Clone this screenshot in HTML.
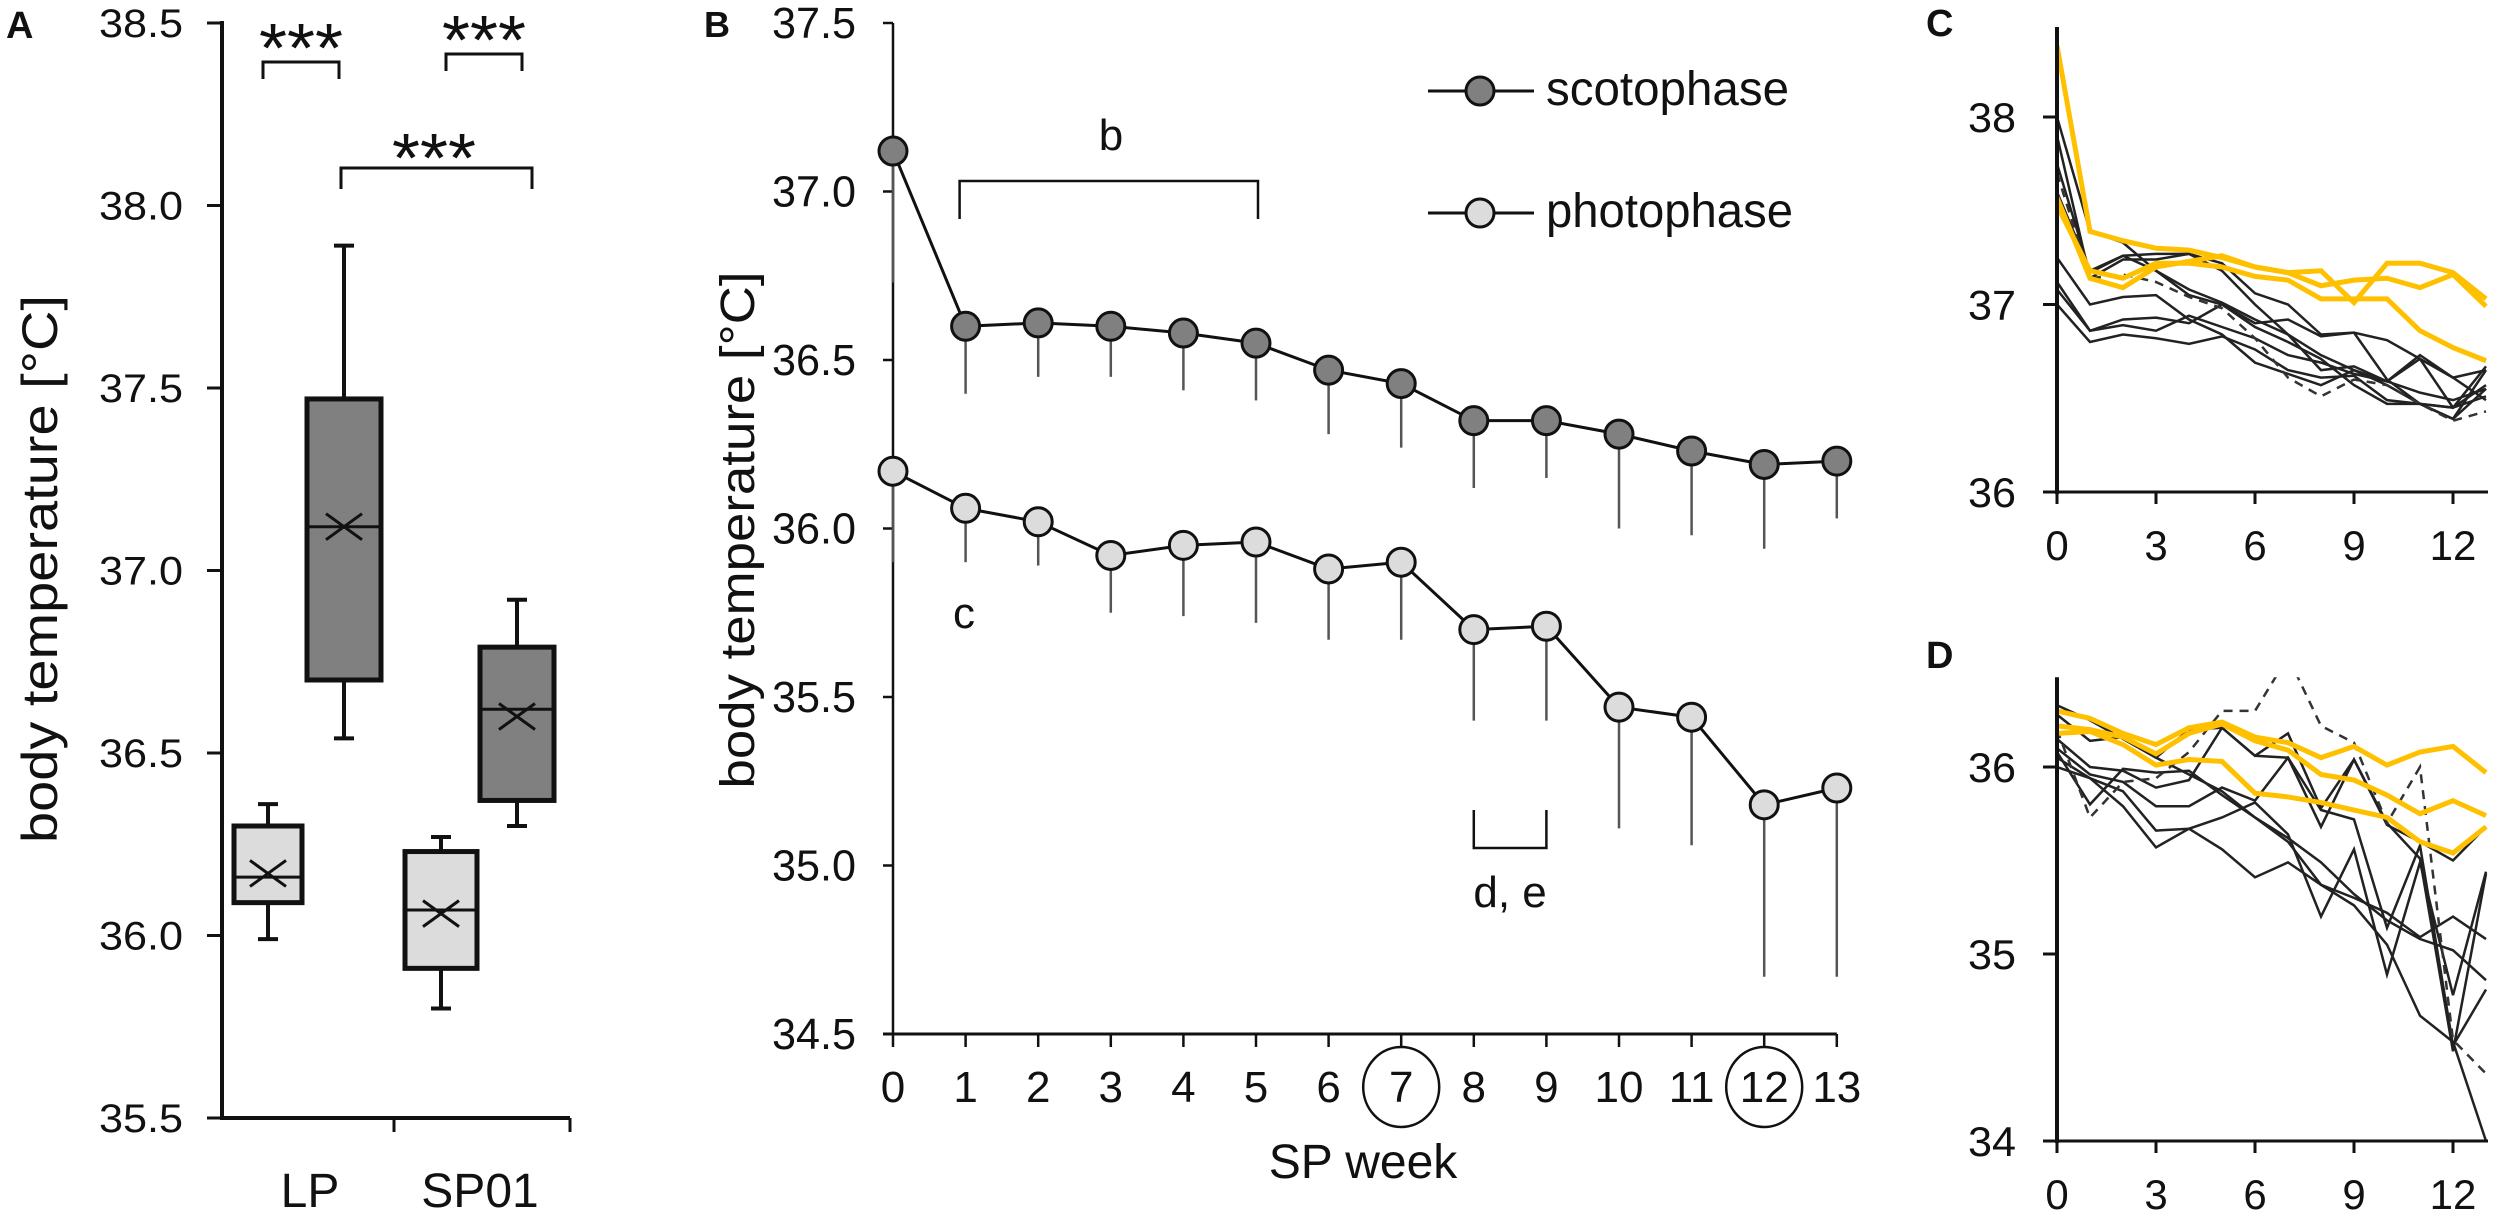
<!DOCTYPE html>
<html><head><meta charset="utf-8"><style>
html,body{margin:0;padding:0;background:#fff}
svg{display:block}
text{font-family:"Liberation Sans",sans-serif;fill:#111}
.nar{font-family:"Liberation Sans Narrow","Liberation Sans",sans-serif}
</style></head><body>
<svg id="fig" width="2500" height="1218" viewBox="0 0 2500 1218" xmlns="http://www.w3.org/2000/svg">
<g id="pA"></g>
<g id="pB"></g>
<g id="pC"></g>
<g id="pD"></g>
</svg>
<script>
// ---------- Panel A data ----------
const aCategories = ["LP", "SP01"];
const aLightBox = [[35.99, 36.09, 36.16, 36.30, 36.36, 36.17],[35.80, 35.91, 36.07, 36.23, 36.27, 36.06]]; // min,q1,med,q3,max,mean
const aDarkBox = [[36.54, 36.70, 37.12, 37.47, 37.89, 37.12],[36.30, 36.37, 36.62, 36.79, 36.92, 36.60]];
const aTicks = ["35.5","36.0","36.5","37.0","37.5","38.0","38.5"];
// ---------- Panel B data ----------
const bWeeks = [0,1,2,3,4,5,6,7,8,9,10,11,12,13];
const bScoto = [37.12,36.60,36.61,36.60,36.58,36.55,36.47,36.43,36.32,36.32,36.28,36.23,36.19,36.20];
const bScotoLow = [36.73,36.40,36.45,36.45,36.41,36.38,36.28,36.24,36.12,36.15,36.00,35.98,35.94,36.03];
const bPhoto = [36.17,36.06,36.02,35.92,35.95,35.96,35.88,35.90,35.70,35.71,35.47,35.44,35.18,35.23];
const bPhotoLow = [35.90,35.90,35.89,35.75,35.74,35.72,35.67,35.67,35.43,35.43,35.11,35.06,34.67,34.67];
const bTicks = ["34.5","35.0","35.5","36.0","36.5","37.0","37.5"];
const bCircled = [7, 12];
// ---------- Panel C data ----------
const cYellow1 = [38.38,37.39,37.34,37.30,37.29,37.25,37.20,37.17,37.18,37.01,37.22,37.22,37.17,37.03];
const cYellow2 = [37.57,37.14,37.09,37.20,37.23,37.26,37.20,37.17,37.10,37.13,37.14,37.09,37.16,36.99];
const cYellow3 = [37.53,37.18,37.14,37.22,37.22,37.20,37.15,37.13,37.03,37.03,37.03,36.86,36.77,36.70];
const cBlack1 = [38.00,37.39,37.33,37.18,37.05,37.00,36.88,36.80,36.71,36.57,36.47,36.47,36.39,36.65];
const cBlack2 = [37.90,37.14,37.24,37.24,37.27,37.22,37.06,37.00,36.84,36.85,36.60,36.47,36.45,36.67];
const cBlack3 = [37.75,37.17,37.26,37.27,37.27,37.18,37.00,36.84,36.65,36.67,36.59,36.71,36.45,36.57];
const cDashed = [37.70,37.14,37.16,37.12,37.04,36.98,36.82,36.61,36.51,36.60,36.57,36.47,36.38,36.43];
const cBlack5 = [37.25,37.00,37.04,37.05,36.92,36.84,36.69,36.63,36.57,36.65,36.57,36.47,36.39,36.55];
const cBlack6 = [37.12,36.86,36.92,36.93,36.90,37.00,36.90,36.92,36.83,36.85,36.81,36.71,36.61,36.65];
const cBlack7 = [37.08,36.86,36.89,36.86,36.94,36.88,36.82,36.73,36.69,36.63,36.59,36.53,36.49,36.55];
const cBlack8 = [37.00,36.80,36.84,36.82,36.79,36.83,36.76,36.65,36.61,36.62,36.49,36.47,36.45,36.51];
const cBlack9 = [37.60,37.18,37.26,37.18,37.08,37.01,36.92,36.84,36.73,36.65,36.59,36.73,36.61,36.49];
const cTicks = ["36","37","38"];
// ---------- Panel D data ----------
const dYellow1 = [36.30,36.26,36.18,36.12,36.21,36.24,36.16,36.13,36.05,36.11,36.01,36.08,36.11,35.97];
const dYellow2 = [36.22,36.20,36.16,36.07,36.18,36.23,36.14,36.09,35.96,35.93,35.85,35.75,35.82,35.74];
const dYellow3 = [36.18,36.19,36.12,36.01,36.04,36.03,35.86,35.84,35.81,35.77,35.73,35.60,35.54,35.68];
const dBlack1 = [36.33,36.25,36.15,36.05,35.96,35.87,35.73,35.62,35.49,35.32,35.18,35.08,35.02,34.86];
const dBlack2 = [36.28,36.14,36.16,36.05,36.20,36.21,36.06,36.18,35.78,36.04,35.69,35.60,35.50,35.68];
const dDashed = [36.20,35.73,35.92,35.94,36.08,36.30,36.30,36.59,36.22,36.13,35.70,36.00,34.54,34.36];
const dBlack4 = [36.15,36.00,35.98,35.89,35.93,36.21,36.06,36.05,35.68,36.04,35.70,35.51,34.48,35.43];
const dBlack5 = [36.10,35.96,35.92,35.79,35.79,35.89,35.82,36.05,35.77,35.72,35.14,35.58,34.51,34.81];
const dBlack6 = [36.08,35.80,35.99,35.97,35.98,35.85,35.73,35.60,35.37,35.30,35.22,35.09,35.20,35.08];
const dBlack7 = [36.05,35.94,35.87,35.66,35.67,35.73,35.81,35.64,35.20,35.56,34.89,35.49,34.78,35.44];
const dBlack8 = [36.00,35.94,35.79,35.57,35.67,35.56,35.41,35.49,35.37,35.26,35.05,34.67,34.53,34.00];
const dTicks = ["34","35","36"];
const cdXTicks = ["0","3","6","9","12"];

const NS = "http://www.w3.org/2000/svg";
function mk(parent, tag, attrs, txt){
  const e = document.createElementNS(NS, tag);
  for (const k in attrs) e.setAttribute(k, attrs[k]);
  if (txt !== undefined) e.textContent = txt;
  parent.appendChild(e);
  return e;
}

// ================= PANEL A =================
(function(){
  const g = document.getElementById('pA');
  const y = v => 23 + (38.5 - v) * 365;
  const ax = 222, axEnd = 570;
  let t = mk(g,'text',{x:6,y:38,'font-size':38,'font-weight':'bold'},'A');
   
  let l = mk(g,'line',{x1:ax,y1:21,x2:ax,y2:y(35.5)+2,stroke:'#111','stroke-width':4});
   
  l = mk(g,'line',{x1:ax-2,y1:y(35.5),x2:axEnd,y2:y(35.5),stroke:'#111','stroke-width':4});
   
  [394, axEnd].forEach(xx=>{ mk(g,'line',{x1:xx,y1:y(35.5),x2:xx,y2:y(35.5)+14,stroke:'#111','stroke-width':3}); });
  aTicks.forEach(s=>{
    const v = parseFloat(s);
    mk(g,'line',{x1:ax-15,y1:y(v),x2:ax,y2:y(v),stroke:'#111','stroke-width':3});
    t = mk(g,'text',{x:183,y:y(v)+14,'font-size':40,'text-anchor':'end',textLength:84,lengthAdjust:'spacingAndGlyphs'},s);
     
  });
  t = mk(g,'text',{x:0,y:0,'font-size':50,'text-anchor':'middle',transform:'translate(57,569) rotate(-90)',textLength:548,lengthAdjust:'spacingAndGlyphs'},'body temperature [°C]');
   
  const catX = [310, 480];
  aCategories.forEach((c,i)=>{
    t = mk(g,'text',{x:catX[i],y:1207,'font-size':48,'text-anchor':'middle'},c);
     
  });
  function box(d, cx, hw, fill, name){
    const bg = mk(g,'g',{});
     
    mk(bg,'line',{x1:cx,y1:y(d[4]),x2:cx,y2:y(d[0]),stroke:'#111','stroke-width':4});
    mk(bg,'line',{x1:cx-10,y1:y(d[4]),x2:cx+10,y2:y(d[4]),stroke:'#111','stroke-width':4});
    mk(bg,'line',{x1:cx-10,y1:y(d[0]),x2:cx+10,y2:y(d[0]),stroke:'#111','stroke-width':4});
    mk(bg,'rect',{x:cx-hw,y:y(d[3]),width:2*hw,height:y(d[1])-y(d[3]),fill:fill,stroke:'#111','stroke-width':5});
    mk(bg,'line',{x1:cx-hw,y1:y(d[2]),x2:cx+hw,y2:y(d[2]),stroke:'#111','stroke-width':3});
    const my = y(d[5]);
    mk(bg,'path',{d:`M${cx-18} ${my-13}L${cx+18} ${my+13}M${cx-18} ${my+13}L${cx+18} ${my-13}`,stroke:'#111','stroke-width':3,fill:'none'});
  }
  box(aLightBox[0], 268, 34, '#dcdcdc', 'box-lp-photophase');
  box(aDarkBox[0], 344, 37, '#808080', 'box-lp-scotophase');
  box(aLightBox[1], 441, 36, '#dcdcdc', 'box-sp01-photophase');
  box(aDarkBox[1], 517, 37, '#808080', 'box-sp01-scotophase');
  function bracket(x1,x2,yt,yb,sx,sy,name){
    const bg = mk(g,'g',{});
     
    mk(bg,'path',{d:`M${x1} ${yb}L${x1} ${yt}L${x2} ${yt}L${x2} ${yb}`,stroke:'#111','stroke-width':3,fill:'none'});
    mk(bg,'text',{x:sx,y:sy,'font-size':70,'text-anchor':'middle',textLength:84,lengthAdjust:'spacingAndGlyphs'},'***');
  }
  bracket(263,339,62,79,301,72,'significance-lp');
  bracket(446,522,54,71,484,64,'significance-sp01');
  bracket(341,532,168,189,434,182,'significance-scotophase');
})();

// ================= PANEL B =================
(function(){
  const g = document.getElementById('pB');
  const x = w => 893 + w * 72.6;
  const y = v => 23 + (37.5 - v) * 337;
  let t = mk(g,'text',{x:704,y:37,'font-size':36,'font-weight':'bold'},'B');
   
  let l = mk(g,'line',{x1:x(0),y1:y(37.5),x2:x(0),y2:y(34.5),stroke:'#111','stroke-width':2.5});
   
  l = mk(g,'line',{x1:x(0)-10,y1:y(34.5),x2:x(13),y2:y(34.5),stroke:'#111','stroke-width':3});
   
  bTicks.forEach(s=>{
    const v = parseFloat(s);
    mk(g,'line',{x1:x(0)-10,y1:y(v),x2:x(0),y2:y(v),stroke:'#111','stroke-width':2.5});
    t = mk(g,'text',{x:856,y:y(v)+15,'font-size':44,'text-anchor':'end','class':'nar',textLength:84,lengthAdjust:'spacingAndGlyphs'},s);
     
  });
  bWeeks.forEach(w=>{
    mk(g,'line',{x1:x(w),y1:y(34.5),x2:x(w),y2:y(34.5)+13,stroke:'#111','stroke-width':2.5});
    t = mk(g,'text',{x:x(w),y:1102,'font-size':44,'text-anchor':'middle','class':'nar'},String(w));
     
  });
  bCircled.forEach(w=>{
    const c = mk(g,'ellipse',{cx:x(w),cy:1087,rx:38,ry:40,fill:'none',stroke:'#111','stroke-width':2.5});
     
  });
  t = mk(g,'text',{x:1363,y:1178,'font-size':48,'text-anchor':'middle','class':'nar'},'SP week');
   
  t = mk(g,'text',{x:0,y:0,'font-size':48,'text-anchor':'middle','class':'nar',transform:'translate(754,530) rotate(-90)',textLength:517,lengthAdjust:'spacingAndGlyphs'},'body temperature [°C]');
   
  function series(vals, lows, fill, name){
    const sg = mk(g,'g',{});
     
    vals.forEach((v,i)=>{
      const e = mk(sg,'line',{x1:x(bWeeks[i]),y1:y(v),x2:x(bWeeks[i]),y2:y(lows[i]),stroke:'#555','stroke-width':2.5});
       
    });
    mk(sg,'polyline',{points:vals.map((v,i)=>x(bWeeks[i])+','+y(v)).join(' '),fill:'none',stroke:'#111','stroke-width':3});
    vals.forEach((v,i)=>{
      const c = mk(sg,'circle',{cx:x(bWeeks[i]),cy:y(v),r:14,fill:fill,stroke:'#111','stroke-width':3});
       
    });
  }
  series(bScoto, bScotoLow, '#808080', 'scotophase-series');
  series(bPhoto, bPhotoLow, '#dcdcdc', 'photophase-series');
  // legend
  [['scotophase','#808080',91],['photophase','#dcdcdc',213]].forEach(([lab,fill,yy])=>{
    const lg = mk(g,'g',{});
     
    mk(lg,'line',{x1:1428,y1:yy,x2:1534,y2:yy,stroke:'#111','stroke-width':3});
    mk(lg,'circle',{cx:1480,cy:yy,r:14,fill:fill,stroke:'#111','stroke-width':3});
    mk(lg,'text',{x:1546,y:yy+14,'font-size':48,'class':'nar',textLength:lab==='scotophase'?243:247,lengthAdjust:'spacingAndGlyphs'},lab);
  });
  // annotations
  let a = mk(g,'path',{d:`M${x(1)-6} 219L${x(1)-6} 181L${x(5)+2} 181L${x(5)+2} 219`,fill:'none',stroke:'#111','stroke-width':2.5});
   
  t = mk(g,'text',{x:1111,y:150,'font-size':44,'text-anchor':'middle','class':'nar'},'b');
   
  t = mk(g,'text',{x:964,y:628,'font-size':44,'text-anchor':'middle','class':'nar'},'c');
   
  a = mk(g,'path',{d:`M${x(8)} 810L${x(8)} 848L${x(9)} 848L${x(9)} 810`,fill:'none',stroke:'#111','stroke-width':2.5});
   
  t = mk(g,'text',{x:x(8.5),y:907,'font-size':44,'text-anchor':'middle','class':'nar'},'d, e');
   
})();

// ================= PANELS C & D =================
function smallPanel(gid, letter, letterY, top, bottom, vMin, vMax, ticks, yellows, blacks, dashed){
  const g = document.getElementById(gid);
  const ax = 2057, wk = 33.0;
  const x = w => ax + w * wk;
  const y = v => bottom - (v - vMin) * (bottom - top) / (vMax - vMin);
  const axTop = top - (bottom - top) / (vMax - vMin) * 0.48;
  const clipId = gid + '-clip';
  const defs = mk(g,'defs',{});
  const cp = mk(defs,'clipPath',{id:clipId});
  mk(cp,'rect',{x:ax,y:axTop,width:440,height:bottom-axTop+40});
  let t = mk(g,'text',{x:1926,y:letterY,'font-size':38,'font-weight':'bold'},letter);
   
  const lines = mk(g,'g',{'clip-path':`url(#${clipId})`});
   
  blacks.forEach(arr=>{
    const p = mk(lines,'polyline',{points:arr.map((v,i)=>x(i)+','+y(v)).join(' '),fill:'none',stroke:'#222','stroke-width':2.5});
     
  });
  const dp = mk(lines,'polyline',{points:dashed.map((v,i)=>x(i)+','+y(v)).join(' '),fill:'none',stroke:'#333','stroke-width':2.5,'stroke-dasharray':'9 7'});
   
  yellows.forEach(arr=>{
    const p = mk(lines,'polyline',{points:arr.map((v,i)=>x(i)+','+y(v)).join(' '),fill:'none',stroke:'#ffc000','stroke-width':5});
     
  });
  let l = mk(g,'line',{x1:ax,y1:axTop,x2:ax,y2:bottom+2,stroke:'#111','stroke-width':4});
   
  l = mk(g,'line',{x1:ax-14,y1:bottom,x2:2488,y2:bottom,stroke:'#111','stroke-width':3});
   
  ticks.forEach(s=>{
    const v = parseFloat(s);
    mk(g,'line',{x1:ax-14,y1:y(v),x2:ax,y2:y(v),stroke:'#111','stroke-width':3});
    t = mk(g,'text',{x:2016,y:y(v)+15,'font-size':42,'text-anchor':'end',textLength:48,lengthAdjust:'spacingAndGlyphs'},s);
     
  });
  cdXTicks.forEach(s=>{
    const w = parseFloat(s);
    mk(g,'line',{x1:x(w),y1:bottom,x2:x(w),y2:bottom+12,stroke:'#111','stroke-width':3});
    t = mk(g,'text',{x:x(w),y:bottom+68,'font-size':42,'text-anchor':'middle'},s);
     
  });
}
smallPanel('pC','C',36,117,492,36,38,cTicks,[cYellow1,cYellow2,cYellow3],
  [cBlack1,cBlack2,cBlack3,cBlack5,cBlack6,cBlack7,cBlack8,cBlack9],cDashed);
smallPanel('pD','D',668,767,1141,34,36,dTicks,[dYellow1,dYellow2,dYellow3],
  [dBlack1,dBlack2,dBlack4,dBlack5,dBlack6,dBlack7,dBlack8],dDashed);
</script>
</body></html>
